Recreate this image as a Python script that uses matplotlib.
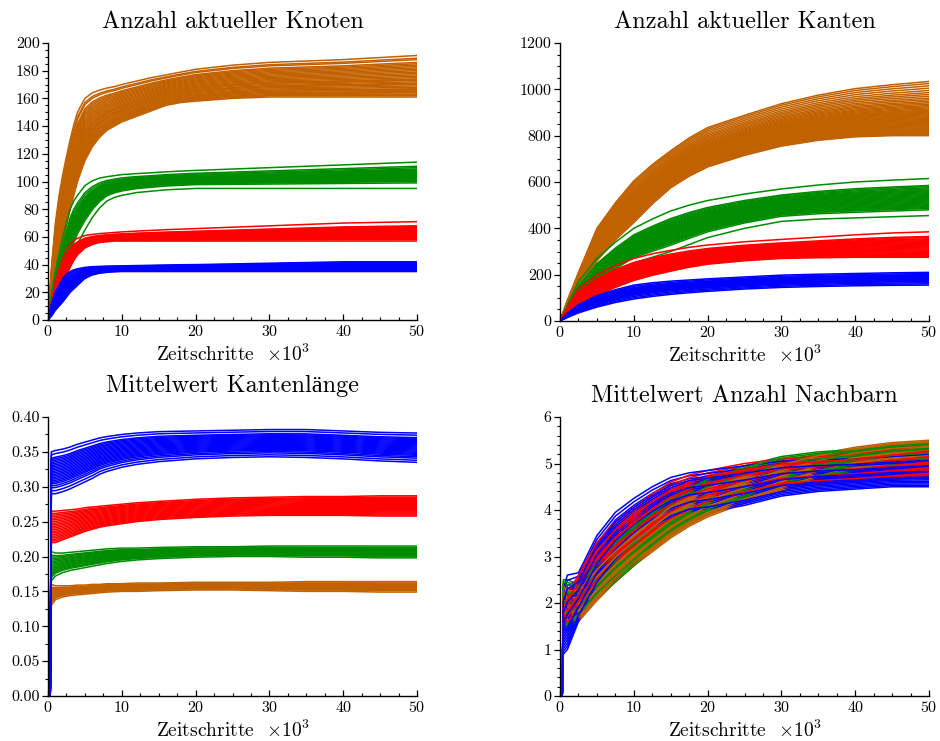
import numpy as np
import matplotlib
matplotlib.use("Agg")
import matplotlib.pyplot as plt
from matplotlib.ticker import MultipleLocator, FormatStrFormatter

plt.rcParams['font.family'] = ['cmr10', 'Liberation Serif']
plt.rcParams['mathtext.fontset'] = 'cm'
plt.rcParams['axes.formatter.use_mathtext'] = True
plt.rcParams['axes.unicode_minus'] = False

C_ORANGE = '#C26100'
C_GREEN = '#008C00'
C_RED = '#FF0000'
C_BLUE = '#0000FF'

# ---------------- Panel 1: Anzahl aktueller Knoten ----------------
P1_T = [0, 0.5, 1, 1.5, 2, 2.5, 3, 3.5, 4, 5, 6, 7, 8, 9, 10, 12, 14, 16, 18, 20, 25, 30, 35, 40, 45, 50]
P1_ORANGE_LO = [0, 15, 30, 43, 55, 68, 80, 90, 100, 115, 125, 132, 137, 140, 143, 147, 151, 155, 157, 158,
                160, 161, 161, 161, 161, 161]
P1_ORANGE_HI = [0, 40, 70, 90, 105, 118, 130, 141, 150, 160, 164, 166, 167.5, 168.5, 170, 172.5, 175, 177,
                179, 181, 184, 186, 187, 188, 189.5, 191]
P1_ORANGE_END = [161, 162, 162.5, 163, 164, 164.5, 165, 166, 166.5, 167, 168, 169, 170, 170.5, 171, 172,
                 173, 173.5, 174, 175, 176, 177, 178, 179, 180, 181, 182, 183, 184, 185, 186, 188, 189, 191]
P1_GREEN_LO = [0, 5, 12, 18, 25, 32, 40, 48, 55, 65, 74, 81, 86, 88.5, 90, 92, 93, 94, 94.5, 95, 95, 95, 95,
               95, 95, 95]
P1_GREEN_HI = [0, 20, 35, 48, 60, 70, 80, 86, 90, 97, 100.5, 102.5, 103.5, 104.2, 105, 105.7, 106.3, 107,
               107.5, 108, 109, 110, 111, 112, 113, 114]
P1_GREEN_END = [95, 99, 100, 100.5, 101, 101.5, 102, 102.5, 103, 103.5, 104, 104.5, 105, 105.5, 106,
                106.5, 107, 107.5, 108, 108.5, 109, 110, 111, 114]
P1_RED_LO = [0, 5, 12, 18, 25, 32, 38, 43, 47, 52, 54.5, 56, 56.5, 57, 57, 57, 57, 57, 57, 57, 57, 57, 57,
             57, 57, 57]
P1_RED_HI = [0, 15, 28, 37, 45, 51, 55, 57.5, 59, 61, 61.8, 62.4, 62.8, 63.2, 63.6, 64.2, 64.7, 65.2, 65.6,
             66, 67, 68, 69, 70, 70.5, 71]
P1_RED_END = [57, 58, 58.5, 59, 59.5, 60, 60.5, 61, 61.5, 62, 62.5, 63, 63.5, 64, 64.5, 65, 65.5, 66,
              66.5, 67, 67.5, 68, 71]
P1_BLUE_LO = [0, 3, 7, 10, 13, 16.5, 20, 22.5, 25, 30, 32.5, 33.8, 34.4, 34.8, 35, 35, 35, 35, 35, 35, 35,
              35, 35, 35, 35, 35]
P1_BLUE_HI = [0, 12, 20, 25, 30, 33, 35, 36.2, 37, 38, 38.5, 38.7, 38.9, 39, 39.1, 39.3, 39.5, 39.7, 39.9,
              40, 40.5, 41, 41.5, 42, 42, 42]
P1_BLUE_END = [35, 35.5, 36, 36.3, 36.6, 37, 37.3, 37.6, 38, 38.3, 38.6, 39, 39.3, 39.6, 40, 40.5, 41,
               41.5, 42]

# ---------------- Panel 2: Anzahl aktueller Kanten ----------------
P2_T = [0, 1, 2.5, 5, 7.5, 10, 12.5, 15, 17.5, 20, 25, 30, 35, 40, 45, 50]
P2_ORANGE_LO = [0, 35, 100, 260, 350, 425, 505, 575, 625, 665, 715, 755, 780, 795, 800, 800]
P2_ORANGE_HI = [0, 90, 210, 400, 510, 605, 675, 735, 790, 835, 888, 938, 975, 1003, 1020, 1034]
P2_ORANGE_END = [800, 803, 806, 810, 814, 818, 822, 826, 830, 834, 838, 842, 846, 850, 854, 858, 862, 866,
                 870, 874, 878, 882, 886, 890, 894, 898, 902, 906, 910, 915, 920, 925, 930, 936, 942, 948,
                 955, 962, 970, 978, 986, 995, 1005, 1015, 1025, 1034]
P2_GREEN_LO = [0, 25, 70, 150, 205, 250, 275, 300, 330, 360, 400, 430, 440, 445, 450, 455]
P2_GREEN_HI = [0, 70, 170, 270, 340, 400, 440, 475, 500, 520, 548, 570, 587, 600, 608, 615]
P2_GREEN_END = [455, 480, 486, 490, 494, 498, 502, 506, 510, 514, 518, 522, 526, 530, 534, 538, 542, 546,
                550, 554, 558, 562, 566, 570, 575, 580, 585, 615]
P2_RED_LO = [0, 25, 65, 110, 145, 175, 197, 215, 232, 245, 260, 270, 273, 275, 275, 275]
P2_RED_HI = [0, 60, 140, 200, 240, 270, 290, 305, 318, 328, 342, 352, 362, 372, 380, 385]
P2_RED_END = [275, 279, 283, 287, 291, 295, 299, 303, 307, 311, 315, 319, 323, 327, 331, 335, 339, 343,
              347, 351, 355, 360, 365, 385]
P2_BLUE_LO = [0, 15, 35, 60, 80, 95, 106, 115, 122, 128, 138, 145, 149, 152, 154, 155]
P2_BLUE_HI = [0, 35, 70, 110, 135, 155, 165, 172, 177, 182, 190, 198, 202, 205, 208, 210]
P2_BLUE_END = [155, 160, 165, 170, 172, 175, 178, 180, 183, 185, 188, 190, 193, 195, 198, 200, 205, 210]

# ---------------- Panel 3: Mittelwert Kantenlänge ----------------
P3_T = [0, 0.3, 0.45, 1, 2, 3, 4, 5, 6, 7, 8, 10, 12, 15, 20, 25, 30, 35, 40, 45, 50]
P3_BLUE_LO = [0, 0, 0.29, 0.29, 0.293, 0.297, 0.302, 0.307, 0.312, 0.318, 0.322, 0.328, 0.332, 0.336, 0.34,
              0.342, 0.343, 0.342, 0.34, 0.337, 0.335]
P3_BLUE_HI = [0, 0, 0.35, 0.352, 0.354, 0.357, 0.361, 0.364, 0.367, 0.37, 0.372, 0.375, 0.377, 0.379, 0.38,
              0.381, 0.382, 0.382, 0.38, 0.378, 0.377]
P3_BLUE_END = [0.335, 0.338, 0.341, 0.343, 0.345, 0.3465, 0.348, 0.3495, 0.351, 0.3525, 0.354, 0.3555,
               0.357, 0.3585, 0.36, 0.3615, 0.363, 0.3645, 0.366, 0.3675, 0.369, 0.3705, 0.374, 0.377]
P3_RED_LO = [0, 0, 0.22, 0.22, 0.224, 0.228, 0.232, 0.236, 0.239, 0.242, 0.244, 0.247, 0.25, 0.253, 0.256,
             0.258, 0.259, 0.259, 0.259, 0.258, 0.258]
P3_RED_HI = [0, 0, 0.265, 0.265, 0.266, 0.267, 0.268, 0.27, 0.271, 0.272, 0.273, 0.275, 0.277, 0.279, 0.282,
             0.284, 0.285, 0.286, 0.286, 0.287, 0.287]
P3_RED_END = [0.258, 0.2595, 0.261, 0.2625, 0.264, 0.2655, 0.267, 0.2685, 0.27, 0.2715, 0.273, 0.2745,
              0.276, 0.2775, 0.279, 0.2805, 0.282, 0.2835, 0.285, 0.287]
P3_GREEN_LO = [0, 0, 0.165, 0.172, 0.177, 0.18, 0.182, 0.184, 0.186, 0.188, 0.19, 0.193, 0.195, 0.197, 0.199,
               0.2, 0.2, 0.199, 0.199, 0.198, 0.198]
P3_GREEN_HI = [0, 0, 0.207, 0.205, 0.205, 0.206, 0.207, 0.208, 0.209, 0.21, 0.211, 0.212, 0.212, 0.213,
               0.214, 0.214, 0.215, 0.215, 0.215, 0.215, 0.215]
P3_GREEN_END = [0.198, 0.2, 0.201, 0.202, 0.203, 0.204, 0.205, 0.206, 0.207, 0.208, 0.209, 0.21, 0.211,
                0.212, 0.213, 0.215]
P3_ORANGE_LO = [0, 0, 0.13, 0.138, 0.142, 0.144, 0.145, 0.146, 0.147, 0.148, 0.149, 0.15, 0.15, 0.151, 0.152,
                0.152, 0.151, 0.15, 0.15, 0.149, 0.149]
P3_ORANGE_HI = [0, 0, 0.16, 0.158, 0.158, 0.158, 0.159, 0.159, 0.16, 0.16, 0.161, 0.161, 0.162, 0.162, 0.163,
                0.163, 0.163, 0.164, 0.164, 0.164, 0.164]
P3_ORANGE_END = [0.149, 0.151, 0.152, 0.153, 0.154, 0.155, 0.156, 0.157, 0.158, 0.159, 0.16, 0.161,
                 0.162, 0.164]

# ---------------- Panel 4: Mittelwert Anzahl Nachbarn ----------------
P4_T = [0, 0.3, 0.45, 1, 2.5, 5, 7.5, 10, 12.5, 15, 17.5, 20, 25, 30, 35, 40, 45, 50]
P4_ORANGE_LO = [0, 0, 1.8, 1.5, 1.6, 2.05, 2.45, 2.8, 3.1, 3.4, 3.65, 3.85, 4.15, 4.4, 4.65, 4.85, 4.95, 5.0]
P4_ORANGE_HI = [0, 0, 2.4, 2.3, 2.3, 2.75, 3.15, 3.5, 3.8, 4.1, 4.3, 4.5, 4.75, 5.0, 5.2, 5.35, 5.45, 5.5]
P4_ORANGE_END = [5.0, 5.025, 5.05, 5.075, 5.1, 5.125, 5.15, 5.175, 5.2, 5.225, 5.25, 5.275, 5.3, 5.325,
                 5.35, 5.375, 5.4, 5.425, 5.45, 5.475, 5.5]
P4_GREEN_LO = [0, 0, 1.5, 1.4, 1.65, 2.1, 2.45, 2.8, 3.15, 3.45, 3.7, 3.9, 4.2, 4.5, 4.65, 4.8, 4.9, 4.95]
P4_GREEN_HI = [0, 0, 2.5, 2.5, 2.4, 2.9, 3.35, 3.7, 4.0, 4.3, 4.5, 4.7, 4.95, 5.15, 5.25, 5.3, 5.4, 5.45]
P4_GREEN_END = [4.95, 4.975, 5.0, 5.025, 5.05, 5.075, 5.1, 5.125, 5.15, 5.175, 5.2, 5.225, 5.25, 5.275,
                5.3, 5.325, 5.35, 5.375, 5.4, 5.425, 5.45]
P4_RED_LO = [0, 0, 1.6, 1.5, 1.8, 2.4, 2.8, 3.1, 3.45, 3.7, 3.9, 4.1, 4.3, 4.5, 4.55, 4.6, 4.65, 4.7]
P4_RED_HI = [0, 0, 2.2, 2.2, 2.6, 3.3, 3.75, 4.05, 4.35, 4.6, 4.75, 4.85, 5.0, 5.1, 5.15, 5.2, 5.3, 5.4]
P4_RED_END = [4.7, 4.73, 4.76, 4.79, 4.82, 4.85, 4.88, 4.91, 4.94, 4.97, 5.0, 5.03, 5.06, 5.09, 5.12,
              5.15, 5.18, 5.21, 5.24, 5.27, 5.3, 5.35, 5.4]
P4_BLUE_LO = [0, 0, 0.9, 1.0, 1.6, 2.3, 2.8, 3.2, 3.5, 3.75, 3.9, 3.95, 4.1, 4.3, 4.4, 4.45, 4.5, 4.5]
P4_BLUE_HI = [0, 0, 2.3, 2.6, 2.65, 3.45, 3.95, 4.25, 4.5, 4.7, 4.8, 4.85, 4.95, 5.05, 5.08, 5.1, 5.15, 5.2]
P4_BLUE_END = [4.5, 4.53, 4.56, 4.59, 4.62, 4.65, 4.68, 4.71, 4.74, 4.77, 4.8, 4.83, 4.86, 4.89, 4.92,
               4.95, 4.98, 5.01, 5.04, 5.07, 5.1, 5.15, 5.2]

TITLES = ['Anzahl aktueller Knoten', 'Anzahl aktueller Kanten',
          'Mittelwert Kantenlänge', 'Mittelwert Anzahl Nachbarn']
XLABEL = r'Zeitschritte  $\times 10^3$'


def band_lines(lo, hi, ends):
    lo = np.asarray(lo, float)
    hi = np.asarray(hi, float)
    out = []
    for e in ends:
        f = (e - lo[-1]) / (hi[-1] - lo[-1])
        out.append(lo + (hi - lo) * f)
    return out


def draw_band(ax, t, lo, hi, ends, color):
    for y in band_lines(lo, hi, ends):
        ax.plot(t, y, color=color, lw=1.1)


def draw_mixed(ax, t, bands, stride=4):
    """Plot the runs of several groups interleaved, each group in a strided order."""
    queues = []
    for lo, hi, ends, c in bands:
        lines = band_lines(lo, hi, ends)
        order = [i for s in range(stride) for i in range(s, len(lines), stride)]
        queues.append(([lines[i] for i in order], c))
    n = max(len(q) for q, _ in queues)
    for k in range(n):
        for lines, c in queues:
            if k < len(lines):
                ax.plot(t, lines[k], color=c, lw=1.1)


def style(ax, ylim, ymajor, yminor, fmt, title, tpad):
    ax.set_xlim(0, 50)
    ax.set_ylim(*ylim)
    for s in ('top', 'right'):
        ax.spines[s].set_visible(False)
    for s in ('left', 'bottom'):
        ax.spines[s].set_linewidth(1.0)
    ax.xaxis.set_major_locator(MultipleLocator(10))
    ax.xaxis.set_minor_locator(MultipleLocator(2.5))
    ax.yaxis.set_major_locator(MultipleLocator(ymajor))
    ax.yaxis.set_minor_locator(MultipleLocator(yminor))
    ax.yaxis.set_major_formatter(FormatStrFormatter(fmt))
    ax.tick_params(axis='y', which='major', direction='out', length=4, width=0.9, labelsize=11.5, pad=2)
    ax.tick_params(axis='y', which='minor', direction='out', length=2.5, width=0.8)
    ax.tick_params(axis='x', which='major', direction='in', length=4, width=0.9, labelsize=11.5, pad=3)
    ax.tick_params(axis='x', which='minor', direction='in', length=2.5, width=0.8)
    ax.set_xlabel(XLABEL, fontsize=14, labelpad=3)
    ax.set_title(title, fontsize=17.5, pad=tpad)


fig = plt.figure(figsize=(9.4, 7.41), dpi=100)
W, H = 940.0, 741.0
ax1 = fig.add_axes([48 / W, 1 - 320 / H, 369 / W, 277 / H])
ax2 = fig.add_axes([560 / W, 1 - 321 / H, 369 / W, 278 / H])
ax3 = fig.add_axes([48 / W, 1 - 696 / H, 369 / W, 279 / H])
ax4 = fig.add_axes([560 / W, 1 - 696 / H, 369 / W, 279 / H])

draw_band(ax1, P1_T, P1_ORANGE_LO, P1_ORANGE_HI, P1_ORANGE_END, C_ORANGE)
draw_band(ax1, P1_T, P1_GREEN_LO, P1_GREEN_HI, P1_GREEN_END, C_GREEN)
draw_band(ax1, P1_T, P1_RED_LO, P1_RED_HI, P1_RED_END, C_RED)
draw_band(ax1, P1_T, P1_BLUE_LO, P1_BLUE_HI, P1_BLUE_END, C_BLUE)
style(ax1, (0, 200), 20, 5, '%d', TITLES[0], 11)

draw_band(ax2, P2_T, P2_ORANGE_LO, P2_ORANGE_HI, P2_ORANGE_END, C_ORANGE)
draw_band(ax2, P2_T, P2_GREEN_LO, P2_GREEN_HI, P2_GREEN_END, C_GREEN)
draw_band(ax2, P2_T, P2_RED_LO, P2_RED_HI, P2_RED_END, C_RED)
draw_band(ax2, P2_T, P2_BLUE_LO, P2_BLUE_HI, P2_BLUE_END, C_BLUE)
style(ax2, (0, 1200), 200, 50, '%d', TITLES[1], 11)

draw_band(ax3, P3_T, P3_ORANGE_LO, P3_ORANGE_HI, P3_ORANGE_END, C_ORANGE)
draw_band(ax3, P3_T, P3_GREEN_LO, P3_GREEN_HI, P3_GREEN_END, C_GREEN)
draw_band(ax3, P3_T, P3_RED_LO, P3_RED_HI, P3_RED_END, C_RED)
draw_band(ax3, P3_T, P3_BLUE_LO, P3_BLUE_HI, P3_BLUE_END, C_BLUE)
style(ax3, (0, 0.40), 0.05, 0.025, '%.2f', TITLES[2], 18)

draw_mixed(ax4, P4_T, [
    (P4_ORANGE_LO, P4_ORANGE_HI, P4_ORANGE_END, C_ORANGE),
    (P4_GREEN_LO, P4_GREEN_HI, P4_GREEN_END, C_GREEN),
    (P4_RED_LO, P4_RED_HI, P4_RED_END, C_RED),
    (P4_BLUE_LO, P4_BLUE_HI, P4_BLUE_END, C_BLUE),
])
style(ax4, (0, 6), 1, 0.2, '%d', TITLES[3], 11)

fig.savefig('out.png', dpi=100)
